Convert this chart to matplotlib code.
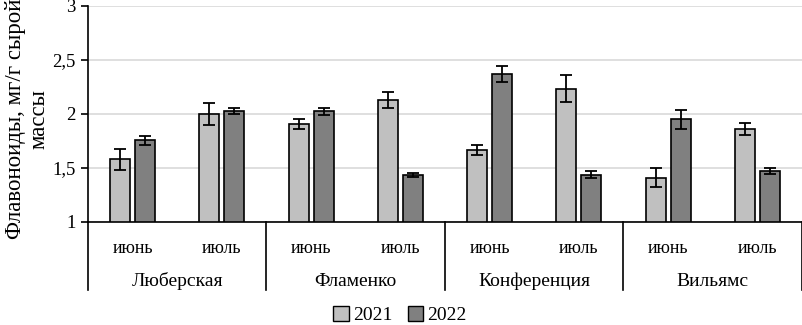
import matplotlib
matplotlib.use("Agg")
import matplotlib.pyplot as plt
import matplotlib.transforms as mtransforms
from matplotlib.patches import Patch
import numpy as np

groups = ["Люберская", "Фламенко", "Конференция", "Вильямс"]
months = ["июнь", "июль"]
series_names = ["2021", "2022"]
vals_2021 = [1.58, 2.00, 1.91, 2.13, 1.665, 2.235, 1.41, 1.86]
err_2021 = [0.10, 0.10, 0.047, 0.077, 0.048, 0.128, 0.087, 0.058]
vals_2022 = [1.755, 2.028, 2.025, 1.432, 2.37, 1.438, 1.951, 1.469]
err_2022 = [0.045, 0.025, 0.03, 0.018, 0.078, 0.033, 0.09, 0.027]
yticks = [1, 1.5, 2, 2.5, 3]
ytick_labels = ["1", "1,5", "2", "2,5", "3"]
ylabel = "Флавоноиды, мг/г сырой\nмассы"

plt.rcParams['font.family'] = ['Liberation Serif', 'DejaVu Serif']
W, H = 803, 325
fig = plt.figure(figsize=(W / 100, H / 100), dpi=100)
left, right, top, bottom = 88, 802, 6, 222
ax = fig.add_axes([left / W, 1 - bottom / H, (right - left) / W, (bottom - top) / H])

n = len(vals_2021)
x = np.arange(n)
bw = 0.225
off = 0.14
c1, c2 = "#c0c0c0", "#808080"
ax.bar(x - off, np.array(vals_2021) - 1, bw, bottom=1, color=c1, edgecolor="black", linewidth=1.2, zorder=3)
ax.bar(x + off, np.array(vals_2022) - 1, bw, bottom=1, color=c2, edgecolor="black", linewidth=1.2, zorder=3)
ax.errorbar(x - off, vals_2021, yerr=err_2021, fmt="none", ecolor="black", elinewidth=1.3, capsize=4, capthick=1.3, zorder=4)
ax.errorbar(x + off, vals_2022, yerr=err_2022, fmt="none", ecolor="black", elinewidth=1.3, capsize=4, capthick=1.3, zorder=4)

ax.set_xlim(-0.5, n - 0.5)
ax.set_ylim(1, 3)
ax.set_yticks(yticks)
ax.set_yticklabels(ytick_labels, fontsize=13.5)
ax.yaxis.grid(True, color="#d9d9d9", linewidth=1.2, zorder=0)
ax.set_axisbelow(True)
for s in ["top", "right"]:
    ax.spines[s].set_visible(False)
ax.spines["left"].set_linewidth(1.2)
ax.spines["bottom"].set_linewidth(1.2)
ax.tick_params(axis="y", length=5, width=1.2, pad=4)
ax.set_xticks(x)
ax.set_xticklabels([months[i % 2] for i in range(n)], fontsize=13)
ax.tick_params(axis="x", length=0, pad=13)

fig.text(27 / W, 1 - 119 / H, ylabel, rotation=90, ha="center", va="center",
         multialignment="center", fontsize=16.5, linespacing=1.15)

trans = mtransforms.blended_transform_factory(ax.transData, ax.transAxes)
sep_bottom = -(290 - 222) / (bottom - top)
for g in range(len(groups) + 1):
    xs = g * 2 - 0.5
    ax.plot([xs, xs], [0, sep_bottom], transform=trans, color="black", linewidth=1.2, clip_on=False)
label_y = -(281 - 222) / (bottom - top)
for g, name in enumerate(groups):
    ax.text(g * 2 + 0.5, label_y, name, transform=trans, ha="center", va="center", fontsize=14)

handles = [Patch(facecolor=c1, edgecolor="black", linewidth=1), Patch(facecolor=c2, edgecolor="black", linewidth=1)]
fig.legend(handles, series_names, loc="center", bbox_to_anchor=(400 / W, 1 - 315 / H), ncol=2,
           frameon=False, fontsize=14, handlelength=0.8, handleheight=0.8, handletextpad=0.2, columnspacing=0.8)

fig.savefig("out.png", dpi=100)
